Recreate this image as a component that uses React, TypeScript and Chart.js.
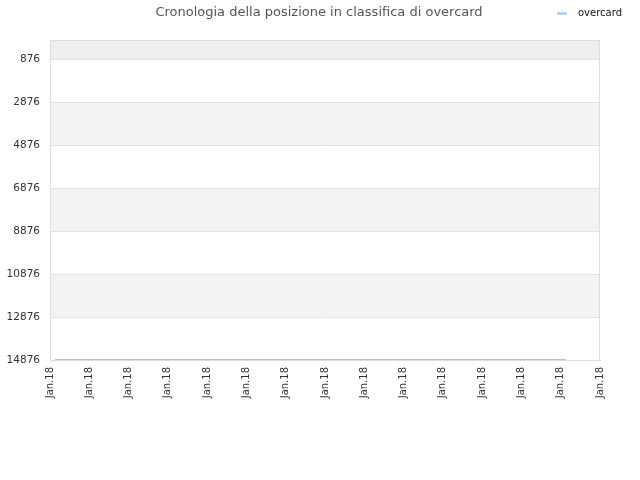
import { useEffect, useRef } from 'react';
import { Chart, registerables } from 'chart.js';

Chart.register(...registerables);

const TITLE = 'Cronologia della posizione in classifica di overcard';
const SERIES_NAME = 'overcard';
const xLabels = ['Jan.18', 'Jan.18', 'Jan.18', 'Jan.18', 'Jan.18', 'Jan.18', 'Jan.18', 'Jan.18',
  'Jan.18', 'Jan.18', 'Jan.18', 'Jan.18', 'Jan.18', 'Jan.18', 'Jan.18'];
const yTicks = [876, 2876, 4876, 6876, 8876, 10876, 12876, 14876];
// day positions (in tick units) and the rank on each day
const days = [0.13, 1.13, 2.13, 3.13, 4.13, 5.13, 6.13, 7.13, 8.13, 9.13, 10.13, 11.13, 12.13, 13.13];
const ranks = [14870, 14870, 14870, 14870, 14870, 14870, 14870, 14870, 14870, 14870, 14870, 14870, 14870, 14870];

const FONT = "'DejaVu Sans', sans-serif";
const LINE_COLOR = '#9cc2ee';

const bands = {
  id: 'bands',
  beforeDraw(chart: Chart) {
    const { ctx, chartArea: a } = chart;
    const y = chart.scales.y;
    ctx.save();
    ctx.fillStyle = '#ffffff';
    ctx.fillRect(a.left, a.top, a.right - a.left, a.bottom - a.top);
    // strip above first tick
    ctx.fillStyle = '#eeeeee';
    ctx.fillRect(a.left, a.top, a.right - a.left, y.getPixelForValue(yTicks[0]) - a.top);
    ctx.fillStyle = '#f3f3f3';
    for (let i = 1; i < yTicks.length - 1; i += 2) {
      const p0 = y.getPixelForValue(yTicks[i]);
      const p1 = y.getPixelForValue(yTicks[i + 1]);
      ctx.fillRect(a.left, p0, a.right - a.left, p1 - p0);
    }
    ctx.restore();
  },
  afterDraw(chart: Chart) {
    const { ctx, chartArea: a } = chart;
    ctx.save();
    ctx.strokeStyle = '#dddddd';
    ctx.lineWidth = 1;
    ctx.strokeRect(a.left + 0.5, a.top + 0.5, a.right - a.left - 1, a.bottom - a.top);
    // title
    ctx.fillStyle = '#555555';
    ctx.font = `13px ${FONT}`;
    ctx.textAlign = 'center';
    ctx.textBaseline = 'middle';
    ctx.fillText(TITLE, 319, 13);
    // legend
    ctx.strokeStyle = LINE_COLOR;
    ctx.lineWidth = 2;
    ctx.beginPath();
    ctx.moveTo(557, 13.5);
    ctx.lineTo(567, 13.5);
    ctx.stroke();
    ctx.fillStyle = '#111111';
    ctx.font = `10px ${FONT}`;
    ctx.textAlign = 'left';
    ctx.fillText(SERIES_NAME, 578, 13);
    ctx.restore();
  },
};

export default function App() {
  const canvasRef = useRef<HTMLCanvasElement>(null);

  useEffect(() => {
    if (!canvasRef.current) return;
    const chart = new Chart(canvasRef.current, {
      type: 'line',
      data: {
        datasets: [{
          label: SERIES_NAME,
          data: days.map((d, i) => ({ x: d, y: ranks[i] })),
          borderColor: LINE_COLOR,
          borderWidth: 1.5,
          pointRadius: 0,
          fill: false,
        }],
      },
      options: {
        responsive: false,
        animation: false,
        layout: { padding: { top: 40, right: 40, left: 0, bottom: 0 } },
        plugins: {
          legend: { display: false },
          title: { display: false },
          tooltip: { enabled: false },
        },
        scales: {
          x: {
            type: 'linear',
            min: 0,
            max: xLabels.length - 1,
            afterFit: (s: any) => { s.height = 120; },
            afterBuildTicks: (s: any) => { s.ticks = xLabels.map((_, i) => ({ value: i })); },
            ticks: {
              callback: (v: any) => xLabels[Math.round(Number(v))] ?? '',
              minRotation: 90,
              maxRotation: 90,
              autoSkip: false,
              padding: 7,
              color: '#333333',
              font: { family: FONT, size: 10 },
            },
            grid: { display: false, drawTicks: false },
            border: { color: '#dddddd' },
          },
          y: {
            type: 'linear',
            reverse: true,
            min: -8,
            max: 14876,
            afterFit: (s: any) => { s.width = 50; },
            afterBuildTicks: (s: any) => { s.ticks = yTicks.map(v => ({ value: v })); },
            ticks: {
              callback: (v: any) => String(v),
              padding: 10,
              color: '#333333',
              font: { family: FONT, size: 10.5 },
            },
            grid: { color: '#e4e4e4', drawTicks: false },
            border: { color: '#dddddd' },
          },
        },
      },
      plugins: [bands],
    });
    return () => { chart.destroy(); };
  }, []);

  return (
    <div style={{ position: 'fixed', left: 0, top: 0, width: 640, height: 480, background: '#fff' }}>
      <canvas ref={canvasRef} width={640} height={480} />
    </div>
  );
}
